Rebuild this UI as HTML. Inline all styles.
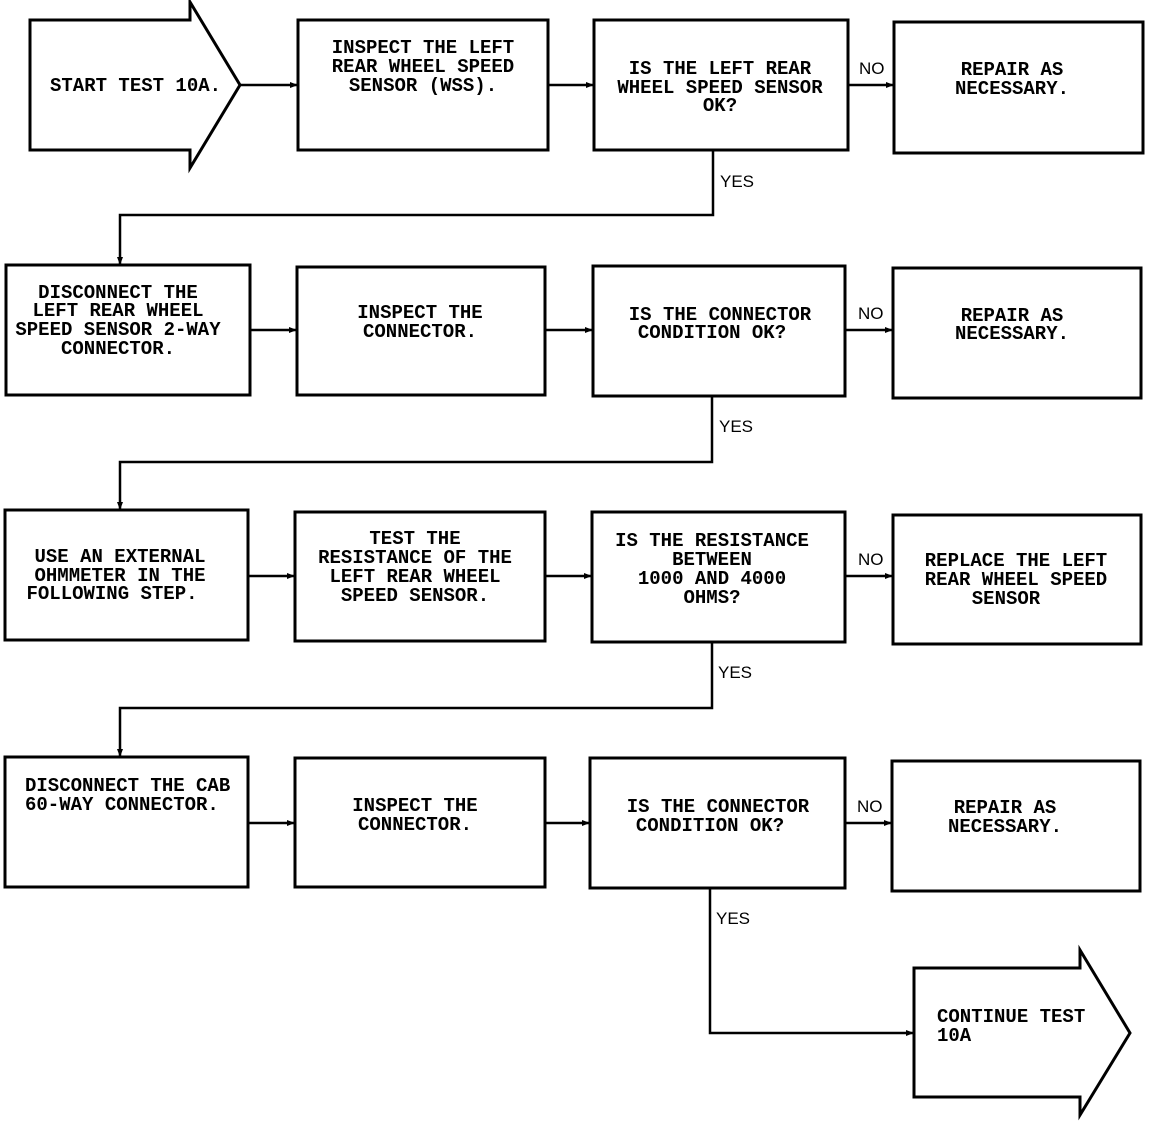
<!DOCTYPE html>
<html><head><style>
html,body{margin:0;padding:0;background:#fff;}
svg{display:block;}
text{font-family:"Liberation Mono",monospace;font-size:19px;fill:#000;font-weight:bold;}
.c{text-anchor:middle;}
.l{font-family:"Liberation Sans",sans-serif;font-size:17px;font-weight:normal;}
</style></head><body>
<svg width="1152" height="1124" viewBox="0 0 1152 1124" xmlns="http://www.w3.org/2000/svg">
<defs><marker id="a" markerWidth="8" markerHeight="8" refX="7" refY="4" orient="auto" markerUnits="userSpaceOnUse"><path d="M0,1 L8,4 L0,7z" fill="#000"/></marker></defs>
<g fill="none" stroke="#000" stroke-width="3">
<path d="M30,20 H190 V2 L240,85 L190,168 V150 H30 Z"/>
<rect x="298" y="20" width="250" height="130"/>
<rect x="594" y="20" width="254" height="130"/>
<rect x="894" y="22" width="249" height="131"/>
<rect x="6" y="265" width="244" height="130"/>
<rect x="297" y="267" width="248" height="128"/>
<rect x="593" y="266" width="252" height="130"/>
<rect x="893" y="268" width="248" height="130"/>
<rect x="5" y="510" width="243" height="130"/>
<rect x="295" y="512" width="250" height="129"/>
<rect x="592" y="512" width="253" height="130"/>
<rect x="893" y="515" width="248" height="129"/>
<rect x="5" y="757" width="243" height="130"/>
<rect x="295" y="758" width="250" height="129"/>
<rect x="590" y="758" width="255" height="130"/>
<rect x="892" y="761" width="248" height="130"/>
<path d="M914,968 H1080 V950 L1130,1033 L1080,1115 V1097 H914 Z"/>
</g>
<g fill="none" stroke="#000" stroke-width="2.5" marker-end="url(#a)">
<path d="M240,85 H297"/><path d="M548,85 H593"/><path d="M848,85 H893"/>
<path d="M713,150 V215 H120 V264"/>
<path d="M250,330 H296"/><path d="M545,330 H592"/><path d="M845,330 H892"/>
<path d="M712,396 V462 H120 V509"/>
<path d="M248,576 H294"/><path d="M545,576 H591"/><path d="M845,576 H892"/>
<path d="M712,642 V708 H120 V756"/>
<path d="M248,823 H294"/><path d="M545,823 H589"/><path d="M845,823 H891"/>
<path d="M710,888 V1033 H913"/>
</g>
<text x="50" y="91">START TEST 10A.</text>
<text class="c" x="423"><tspan x="423" y="53">INSPECT THE LEFT</tspan><tspan x="423" y="72">REAR WHEEL SPEED</tspan><tspan x="423" y="91">SENSOR (WSS).</tspan></text>
<text class="c"><tspan x="720" y="74">IS THE LEFT REAR</tspan><tspan x="720" y="93">WHEEL SPEED SENSOR</tspan><tspan x="720" y="111">OK?</tspan></text>
<text class="c"><tspan x="1012" y="75">REPAIR AS</tspan><tspan x="1012" y="94">NECESSARY.</tspan></text>
<text class="c"><tspan x="118" y="298">DISCONNECT THE</tspan><tspan x="118" y="316">LEFT REAR WHEEL</tspan><tspan x="118" y="335">SPEED SENSOR 2-WAY</tspan><tspan x="118" y="354">CONNECTOR.</tspan></text>
<text class="c"><tspan x="420" y="318">INSPECT THE</tspan><tspan x="420" y="337">CONNECTOR.</tspan></text>
<text class="c"><tspan x="720" y="320">IS THE CONNECTOR</tspan><tspan x="712" y="338">CONDITION OK?</tspan></text>
<text class="c"><tspan x="1012" y="321">REPAIR AS</tspan><tspan x="1012" y="339">NECESSARY.</tspan></text>
<text class="c"><tspan x="120" y="562">USE AN EXTERNAL</tspan><tspan x="120" y="581">OHMMETER IN THE</tspan><tspan x="112" y="599">FOLLOWING STEP.</tspan></text>
<text class="c"><tspan x="415" y="544">TEST THE</tspan><tspan x="415" y="563">RESISTANCE OF THE</tspan><tspan x="415" y="582">LEFT REAR WHEEL</tspan><tspan x="415" y="601">SPEED SENSOR.</tspan></text>
<text class="c"><tspan x="712" y="546">IS THE RESISTANCE</tspan><tspan x="712" y="565">BETWEEN</tspan><tspan x="712" y="584">1000 AND 4000</tspan><tspan x="712" y="603">OHMS?</tspan></text>
<text class="c"><tspan x="1016" y="566">REPLACE THE LEFT</tspan><tspan x="1016" y="585">REAR WHEEL SPEED</tspan><tspan x="1006" y="604">SENSOR</tspan></text>
<text><tspan x="25" y="791">DISCONNECT THE CAB</tspan><tspan x="25" y="810">60-WAY CONNECTOR.</tspan></text>
<text class="c"><tspan x="415" y="811">INSPECT THE</tspan><tspan x="415" y="830">CONNECTOR.</tspan></text>
<text class="c"><tspan x="718" y="812">IS THE CONNECTOR</tspan><tspan x="710" y="831">CONDITION OK?</tspan></text>
<text class="c"><tspan x="1005" y="813">REPAIR AS</tspan><tspan x="1005" y="832">NECESSARY.</tspan></text>
<text><tspan x="937" y="1022">CONTINUE TEST</tspan><tspan x="937" y="1041">10A</tspan></text>
<text class="l" x="859" y="74">NO</text><text class="l" x="720" y="187">YES</text>
<text class="l" x="858" y="319">NO</text><text class="l" x="719" y="432">YES</text>
<text class="l" x="858" y="565">NO</text><text class="l" x="718" y="678">YES</text>
<text class="l" x="857" y="812">NO</text><text class="l" x="716" y="924">YES</text>
</svg>
</body></html>
